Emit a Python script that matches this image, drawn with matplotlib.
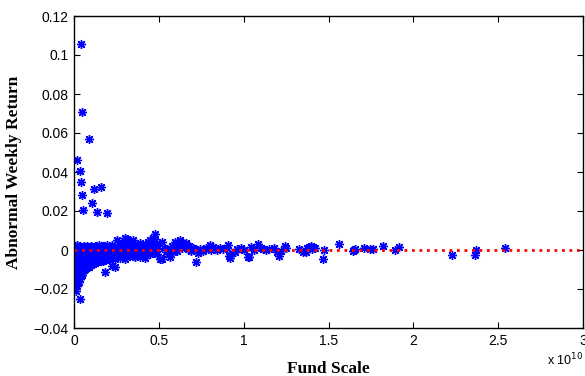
import numpy as np
import matplotlib.pyplot as plt

# fund scale in units of 1e10, abnormal weekly return
# dense band close to zero size
x_near = [0.004]*9 + [0.011]*10 + [0.019]*11 + [0.027]*9 + [0.036]*9 + [0.046]*8 + \
    [0.056]*7 + [0.066]*6 + [0.077]*6 + [0.088]*6 + [0.099]*6 + [0.11]*5 + [0.122]*5 + \
    [0.134]*5 + [0.146]*5 + [0.158]*4 + [0.17]*5 + [0.183]*4 + [0.196]*4 + [0.21]*4 + \
    [0.225]*5 + [0.24]*5 + [0.255]*4 + [0.27]*4 + [0.285]*4 + [0.3]*6 + [0.315]*5 + \
    [0.33]*4 + [0.345]*4 + [0.36]*4 + [0.375]*3 + [0.39]*4 + [0.405]*3 + [0.42]*4 + \
    [0.435]*3 + [0.45]*4 + [0.465]*4 + [0.478]*4 + [0.492]*3
y_near = [0.0021, 0.0004, -0.0017, -0.0038, -0.0061, -0.0079, -0.0102, -0.0124, -0.0143,
          0.0013, -0.0008, -0.0029, -0.0052, -0.0071, -0.0093, -0.0116, -0.0138, -0.0157, -0.0176,
          0.0024, 0.0002, -0.0019, -0.0042, -0.0064, -0.0085, -0.0107, -0.0129, -0.0151, -0.0169, -0.0184,
          0.0009, -0.0012, -0.0034, -0.0055, -0.0077, -0.0098, -0.0121, -0.0141, -0.0162,
          0.0018, -0.0003, -0.0025, -0.0047, -0.0068, -0.009, -0.0112, -0.0133, -0.0148,
          0.0011, -0.0011, -0.0032, -0.0054, -0.0076, -0.0097, -0.0118, -0.0128,
          0.0022, 0.0001, -0.0021, -0.0043, -0.0065, -0.0086, -0.0104,
          0.0008, -0.0014, -0.0036, -0.0058, -0.0079, -0.0095,
          0.0019, -0.0002, -0.0024, -0.0046, -0.0068, -0.0089,
          0.0012, -0.001, -0.0031, -0.0053, -0.0074, -0.0086,
          0.0023, 0.0001, -0.002, -0.0042, -0.0063, -0.0079,
          0.001, -0.0012, -0.0034, -0.0056, -0.0071,
          0.0021, -0.0001, -0.0023, -0.0045, -0.0066,
          0.0014, -0.0008, -0.003, -0.0052, -0.0062,
          0.0025, 0.0003, -0.0019, -0.0041, -0.0058,
          0.0011, -0.0011, -0.0033, -0.0054,
          0.0022, 0.0, -0.0022, -0.0044, -0.0057,
          0.0016, -0.0006, -0.0028, -0.0049,
          0.0027, 0.0004, -0.0018, -0.004,
          0.0013, -0.0009, -0.0031, -0.0052,
          0.0024, 0.0002, -0.002, -0.0042, -0.0083,
          0.0017, -0.0005, -0.0027, -0.0047, -0.0089,
          0.0049, 0.0009, -0.0013, -0.0035,
          0.0026, 0.0003, -0.0019, -0.0041,
          0.0038, 0.0012, -0.001, -0.0032,
          0.0063, 0.0041, 0.0018, -0.0004, -0.0026, -0.0046,
          0.0055, 0.0029, 0.0006, -0.0016, -0.0038,
          0.0045, 0.0021, -0.0002, -0.0024,
          0.005, 0.0013, -0.0009, -0.0031,
          0.0032, 0.0008, -0.0015, -0.0037,
          0.0024, 0.0001, -0.0022,
          0.0035, 0.0011, -0.0012, -0.0034,
          0.0019, -0.0004, -0.0026,
          0.0028, 0.0005, -0.0018, -0.004,
          0.004, 0.0014, -0.0009,
          0.0052, 0.0023, 0.0, -0.0023,
          0.0061, 0.0031, 0.0007, -0.0016,
          0.0081, 0.0044, 0.0015, -0.0008,
          0.0026, 0.0003, -0.0019]

# larger funds
x_mid = [0.506, 0.516, 0.52, 0.53, 0.54, 0.55, 0.56, 0.565, 0.575, 0.584, 0.594, 0.6,
         0.61, 0.62, 0.627, 0.635, 0.645, 0.655, 0.663, 0.67, 0.68, 0.69, 0.7, 0.71,
         0.718, 0.731, 0.74, 0.76, 0.78, 0.8, 0.81, 0.82, 0.84, 0.86, 0.88, 0.9, 0.908,
         0.912, 0.918, 0.93, 0.947, 0.96, 0.986, 1.0, 1.025, 1.031, 1.045, 1.06, 1.084,
         1.1, 1.114, 1.13, 1.15, 1.176, 1.196, 1.208, 1.22, 1.241, 1.25, 1.325, 1.349,
         1.369, 1.375, 1.388, 1.395, 1.404, 1.41, 1.42, 1.467, 1.476, 1.561]
y_mid = [-0.0048, -0.0046, 0.0043, 0.0012, -0.0008, 0.0005, -0.0015, -0.0034, 0.0022,
         -0.0009, 0.0043, 0.0015, -0.0005, 0.0028, 0.0051, 0.001, 0.0035, 0.0018, 0.0034,
         0.0004, 0.0022, -0.0006, 0.0012, 0.0003, -0.006, -0.0017, 0.0006, -0.0004, 0.001,
         0.0026, 0.0, 0.0015, -0.0002, 0.0008, 0.0004, 0.0012, 0.0026, -0.003, -0.0043,
         -0.0015, -0.0009, 0.0005, 0.0012, 0.0002, -0.0034, -0.0037, 0.0017, 0.0, 0.0029,
         0.0008, 0.0005, -0.0002, 0.0004, 0.0009, -0.0012, -0.0029, -0.0005, 0.0021,
         0.0011, 0.0005, -0.0009, -0.0012, 0.0008, 0.0017, 0.0022, 0.0005, 0.0014, 0.0009,
         -0.0046, 0.0, 0.0032]

x_far = [1.643, 1.65, 1.659, 1.71, 1.745, 1.765, 1.82, 1.894, 1.914, 2.229, 2.363, 2.371, 2.539]
y_far = [-0.0005, -0.0002, 0.0003, 0.0012, 0.0007, 0.0007, 0.0019, -0.0002, 0.0014,
         -0.0027, -0.0026, 0.0, 0.0008]

# isolated small funds with large returns
x_out = [0.041, 0.045, 0.09, 0.016, 0.035, 0.043, 0.049, 0.053, 0.12, 0.159, 0.106,
         0.133, 0.196, 0.012, 0.037, 0.18]
y_out = [0.1056, 0.0708, 0.057, 0.046, 0.0407, 0.0349, 0.0284, 0.0205, 0.0311, 0.0323,
         0.0239, 0.0195, 0.0188, -0.0209, -0.025, -0.0111]

fund_scale = np.array(x_near + x_mid + x_far + x_out)
abn_return = np.array(y_near + y_mid + y_far + y_out)

yticks = [-0.04, -0.02, 0, 0.02, 0.04, 0.06, 0.08, 0.1, 0.12]
ytick_labels = ['\u22120.04', '\u22120.02', '0', '0.02', '0.04', '0.06', '0.08', '0.1', '0.12']
xticks = [0, 0.5, 1, 1.5, 2, 2.5, 3]
xtick_labels = ['0', '0.5', '1', '1.5', '2', '2.5', '3']

fig = plt.figure(figsize=(5.85, 3.76), dpi=100)
ax = fig.add_axes([74/585, 48/376, 509/585, 312/376])

ax.plot(fund_scale, abn_return, linestyle='none', marker=(8, 2, 0), markersize=6.5,
        markeredgewidth=1.0, color='blue')
ax.plot([0, 3], [0, 0], color='red', linestyle=(0, (1, 1.7)), linewidth=2)

ax.set_xlim(0, 3)
ax.set_ylim(-0.04, 0.12)
ax.set_xticks(xticks)
ax.set_xticklabels(xtick_labels, fontfamily='Liberation Sans', fontsize=10)
ax.set_yticks(yticks)
ax.set_yticklabels(ytick_labels, fontfamily='Liberation Sans', fontsize=10)
ax.tick_params(direction='in', length=4, width=0.8, top=True, right=True, pad=4)
for s in ax.spines.values():
    s.set_linewidth(1.0)

ax.set_xlabel('Fund Scale', fontfamily='Liberation Serif', fontweight='bold', fontsize=12.5, labelpad=10)
ax.set_ylabel('Abnormal Weekly Return', fontfamily='Liberation Serif', fontweight='bold', fontsize=12.5, labelpad=8)
ax.text(1.0, -0.075, 'x 10$^{10}$', transform=ax.transAxes, ha='right', va='top',
        fontfamily='Liberation Sans', fontsize=9)

fig.savefig('out.png', dpi=100)
